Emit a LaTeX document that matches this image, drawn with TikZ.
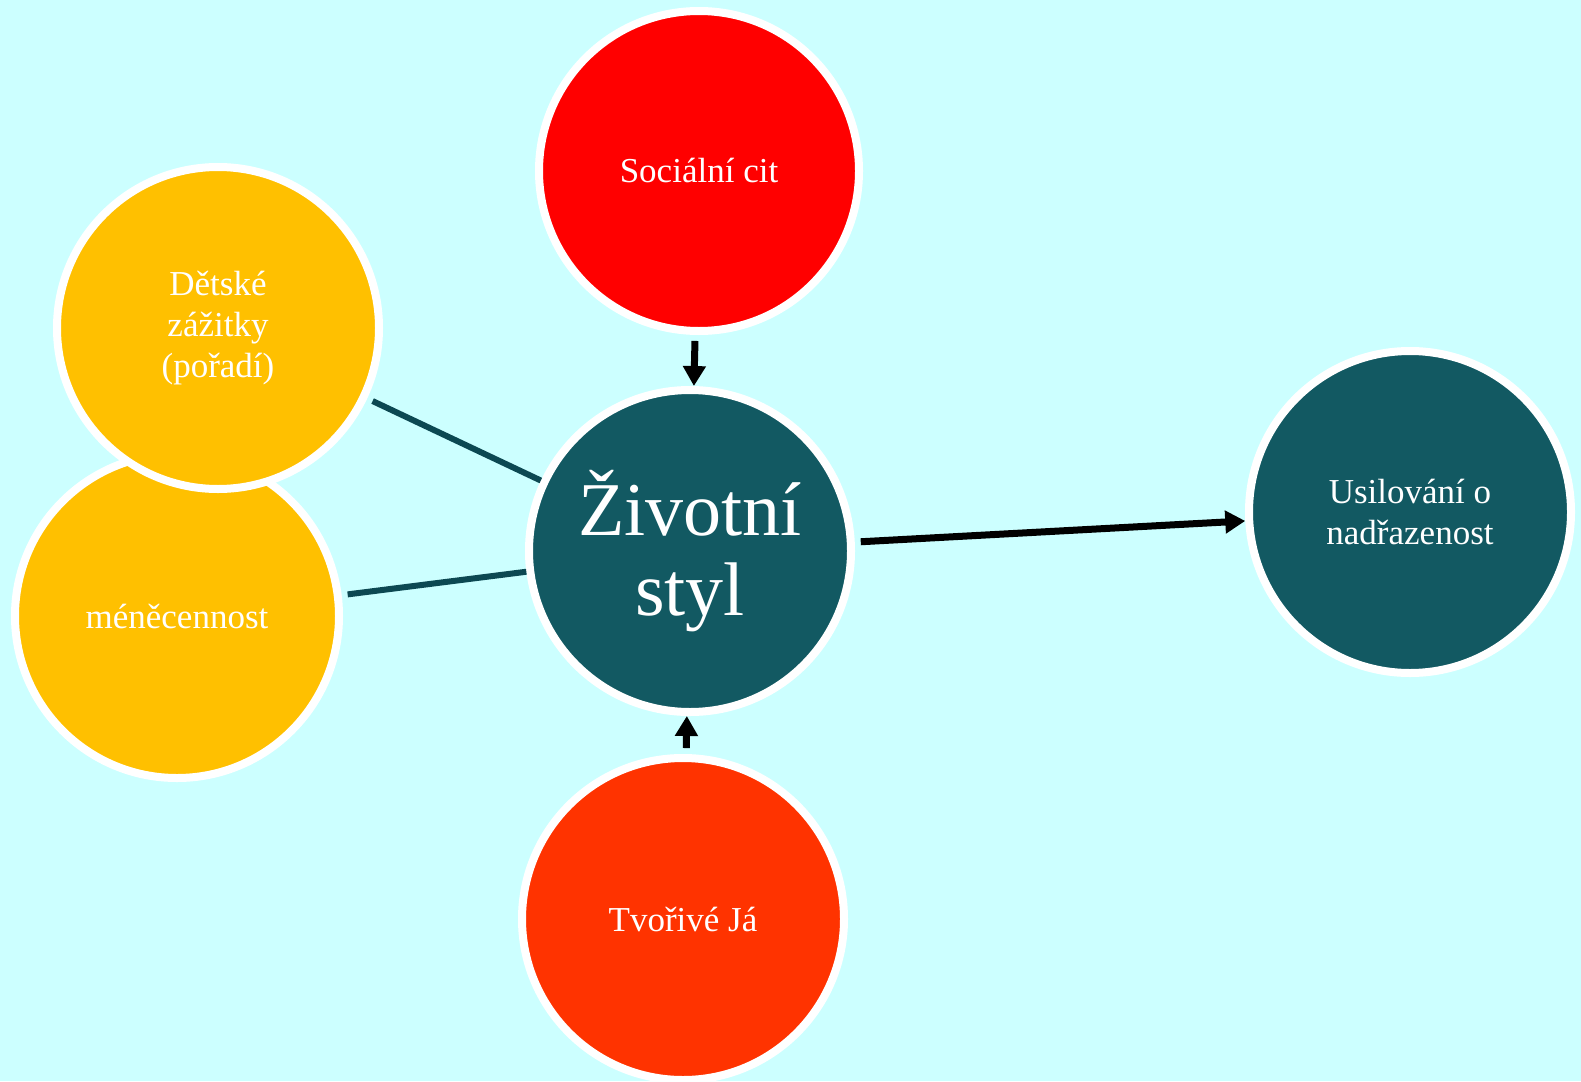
\documentclass[tikz,border=0pt]{standalone}
\usepackage{fontspec}
\setmainfont{Liberation Serif}
\usepackage{xcolor}
\usepackage{tikz}
\usetikzlibrary{arrows.meta}
\definecolor{bgcyan}{RGB}{204,255,255}
\definecolor{citred}{RGB}{255,0,0}
\definecolor{jaorange}{RGB}{255,51,0}
\definecolor{childyellow}{RGB}{255,192,0}
\definecolor{styleteal}{RGB}{18,89,98}
\definecolor{linkteal}{RGB}{12,72,82}

\begin{document}
\begin{tikzpicture}[
    x=1pt, y=-1pt,
    bubble/.style={circle, draw=white, line width=8pt, minimum size=320pt, text=white, align=center, font=\fontsize{35}{41}\selectfont},
    link/.style={line width=6pt, draw=linkteal, shorten <=6pt},
    arrow/.style={-{Triangle[length=20pt,width=22pt]}, line width=7pt, draw=black, shorten <=6pt}
]
\fill[bgcyan] (0,0) rectangle (1581,1081);
\useasboundingbox (0,0) rectangle (1581,1081);

\node[bubble, fill=childyellow, minimum size=324pt] (inferior) at (177,616) {méněcennost};
\node[bubble, fill=childyellow, minimum size=322pt] (childhood) at (218,328) {Dětské\\zážitky\\(pořadí)};
\node[bubble, fill=citred, minimum size=320pt] (social) at (699,171) {Sociální cit};
\node[bubble, fill=styleteal, minimum size=322pt, font=\fontsize{76}{80}\selectfont] (lifestyle) at (690,551) {Životní\\styl};
\node[bubble, fill=styleteal, minimum size=322pt] (superior) at (1410,512) {Usilování o\\nadřazenost};
\node[bubble, fill=jaorange, minimum size=322pt] (creative) at (683,919) {Tvořivé Já};

\draw[link] (childhood) -- (lifestyle);
\draw[link] (inferior) -- (lifestyle);
\draw[arrow] (social) -- (lifestyle);
\draw[arrow] (creative) -- (lifestyle);
\draw[arrow] (lifestyle) -- (superior);
\end{tikzpicture}
\end{document}
